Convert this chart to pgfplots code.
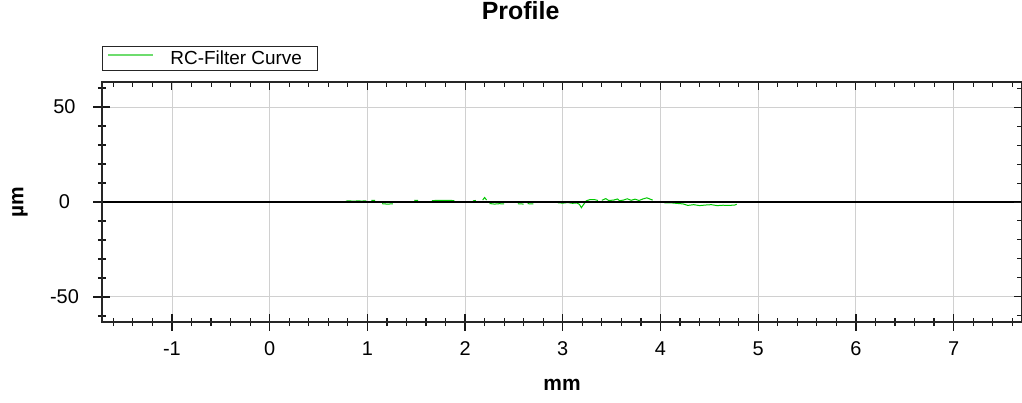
\documentclass[border=0pt]{standalone}
\usepackage{fontspec}
\setmainfont{Liberation Sans}
\usepackage{pgfplots}
\pgfplotsset{compat=1.18}

\definecolor{curvegreen}{RGB}{0,200,0}
\definecolor{legendgreen}{RGB}{110,220,110}
\definecolor{gridgray}{RGB}{208,208,208}

\begin{document}
\begin{tikzpicture}
\useasboundingbox (-102bp,-81bp) rectangle (920bp,322bp);
\begin{axis}[
  at={(0,0)}, anchor=south west,
  scale only axis, width=920bp, height=240bp,
  xmin=-1.716, xmax=7.7, ymin=-63.2, ymax=63.2,
  xtick={-1,0,1,2,3,4,5,6,7}, ytick={-50,0,50},
  minor xtick={-1.6,-1.4,...,7.61},
  minor ytick={-60,-40,-30,-20,-10,10,20,30,40,60},
  xtick pos=left, ytick pos=left,
  xtick align=center, ytick align=center,
  major tick length=17bp, minor tick length=8bp,
  tick style={black!90, line width=1.2bp},
  axis line style={black!85, line width=1.2bp},
  grid=major, major grid style={gridgray, line width=0.9bp},
  /pgf/number format/assume math mode=true,
  ticklabel style={font=\fontsize{20}{24}\selectfont},
  xticklabel style={yshift=-8bp},
  yticklabel style={anchor=center, xshift=-29bp},
  unbounded coords=jump,
  title={Profile},
  title style={at={(axis description cs:0.455,1.2708)}, anchor=center, yshift=0pt, font=\bfseries\fontsize{25}{29}\selectfont},
  xlabel={mm},
  xlabel style={at={(axis description cs:0.5,-0.2625)}, anchor=center, font=\bfseries\fontsize{21}{25}\selectfont},
  ylabel={µm},
  ylabel style={at={(axis description cs:-0.0891,0.5)}, anchor=center, font=\bfseries\fontsize{21}{25}\selectfont},
  legend style={at={(axis description cs:0,1)}, anchor=south west, yshift=11bp,
    draw=black!85, line width=1bp, fill=white,
    inner xsep=0pt, inner ysep=0pt,
    nodes={inner xsep=0pt, inner ysep=4.5bp},
    font=\fontsize{19}{22}\selectfont,
    /tikz/every even column/.append style={column sep=0pt}},
  legend cell align=left,
  legend image code/.code={\path[draw=none] (0bp,0bp) -- (68bp,0bp); \draw[draw=legendgreen, line width=1.3bp] (6bp,0.33em) -- (51bp,0.33em);},
]
\addplot[curvegreen, line width=1bp] coordinates {
(0.78,0.5)(0.82,0.6)(0.86,0.4)(0.90,0.6)(0.94,0.5)(0.99,0.6)
(0.99,nan)
(1.04,0.8)(1.08,0.9)
(1.10,nan)
(1.15,-0.9)(1.20,-1.1)(1.26,-1.0)
(1.30,nan)
(1.48,0.8)(1.52,0.9)
(1.55,nan)
(1.66,0.7)(1.72,0.9)(1.78,0.8)(1.84,0.9)(1.89,0.7)
(1.95,nan)
(2.08,0.6)(2.11,0.8)
(2.15,nan)
(2.18,1.0)(2.20,2.4)(2.22,1.0)
(2.23,nan)
(2.25,-0.8)(2.30,-1.1)(2.35,-0.9)(2.40,-1.0)
(2.45,nan)
(2.54,-0.9)(2.60,-1.1)
(2.62,nan)
(2.64,-0.9)(2.70,-1.0)
(2.80,nan)
(2.95,-0.4)(3.00,-0.6)(3.05,-0.3)(3.10,-0.7)(3.14,-0.5)(3.17,-1.2)(3.19,-3.0)(3.21,-1.5)(3.24,0.6)(3.28,1.3)(3.33,1.2)(3.36,0.8)
(3.38,nan)
(3.40,0.9)(3.44,1.8)(3.47,0.8)(3.52,1.0)(3.56,1.6)(3.58,0.7)(3.62,1.0)(3.66,1.7)(3.70,0.9)(3.74,1.5)(3.78,0.8)(3.82,1.6)(3.86,2.2)(3.89,1.6)(3.92,1.0)
(3.98,nan)
(4.04,-0.5)(4.10,-0.4)(4.16,-0.7)(4.23,-1.0)(4.28,-1.8)(4.34,-1.4)(4.40,-1.9)(4.46,-1.6)(4.52,-1.4)(4.58,-1.9)(4.64,-1.7)(4.70,-1.8)(4.76,-1.6)(4.78,-1.2)
};
\addlegendentry{RC-Filter Curve\hspace*{16bp}}
\addplot[black, line width=1.3bp, forget plot] coordinates {(-1.716,0) (7.7,0)};
\end{axis}
\begin{axis}[
  at={(0,0)}, anchor=south west,
  scale only axis, width=920bp, height=240bp,
  xmin=-1.716, xmax=7.7, ymin=-63.2, ymax=63.2,
  xtick={-1,0,1,2,3,4,5,6,7}, ytick={-50,0,50},
  minor xtick={-1.6,-1.4,...,7.61},
  minor ytick={-60,-40,-30,-20,-10,10,20,30,40,60},
  xtick pos=right, ytick pos=right,
  xtick align=inside, ytick align=inside,
  major tick length=8bp, minor tick length=5bp,
  tick style={black!90, line width=1bp},
  axis line style={black!85, line width=1.2bp},
  xticklabels={}, yticklabels={},
]
\end{axis}
\end{tikzpicture}
\end{document}
